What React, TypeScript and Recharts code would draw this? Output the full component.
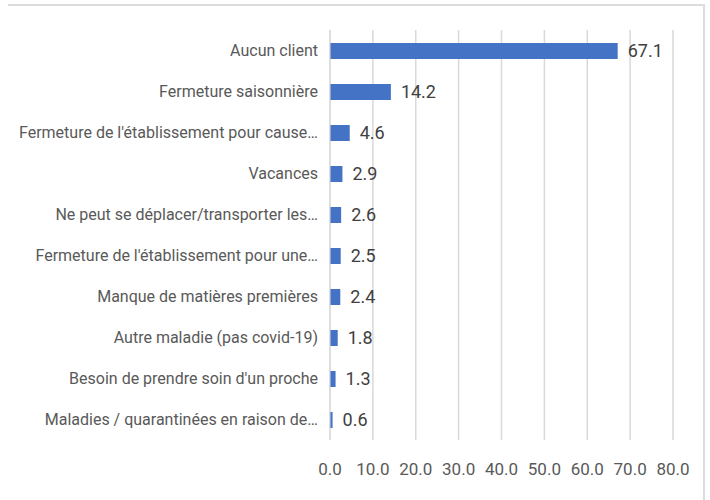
import React from 'react';
import { BarChart, Bar, XAxis, YAxis, CartesianGrid, LabelList } from 'recharts';

const categories = [
  'Aucun client',
  'Fermeture saisonnière',
  "Fermeture de l'établissement pour cause…",
  'Vacances',
  'Ne peut se déplacer/transporter les…',
  "Fermeture de l'établissement pour une…",
  'Manque de matières premières',
  'Autre maladie (pas covid-19)',
  "Besoin de prendre soin d'un proche",
  'Maladies / quarantinées en raison de…',
];

const values = [67.1, 14.2, 4.6, 2.9, 2.6, 2.5, 2.4, 1.8, 1.3, 0.6];

const xTicks = [0, 10, 20, 30, 40, 50, 60, 70, 80];

const data = categories.map((name, i) => ({ name, value: values[i] }));

const FONT = 'Roboto, sans-serif';
const TEXT = '#595959';

const App: React.FC = () => {
  return (
    <div style={{ position: 'absolute', left: 0, top: 0, width: 710, height: 500, background: '#fff' }}>
      {/* chart frame (top + right edges visible) */}
      <div
        style={{
          position: 'absolute',
          left: 8,
          top: 4,
          width: 695,
          height: 500,
          borderTop: '2px solid #dcdcdc',
          borderRight: '2px solid #dcdcdc',
        }}
      />
      <BarChart
        width={710}
        height={500}
        data={data}
        layout="vertical"
        margin={{ top: 30, right: 37, left: 0, bottom: 0 }}
        style={{ position: 'absolute', left: 0, top: 0 }}
      >
        <CartesianGrid horizontal={false} stroke="#d9d9d9" strokeWidth={1.5} />
        <XAxis
          type="number"
          domain={[0, 80]}
          ticks={xTicks}
          tickFormatter={(v: number) => v.toFixed(1)}
          axisLine={false}
          tickLine={false}
          height={60}
          tickMargin={17}
          interval={0}
          tick={{ fill: TEXT, fontSize: 17, fontFamily: FONT }}
        />
        <YAxis
          type="category"
          dataKey="name"
          width={330}
          axisLine={{ stroke: '#d9d9d9' }}
          tickLine={false}
          tickMargin={6}
          interval={0}
          tick={{ fill: TEXT, fontSize: 16, fontFamily: FONT }}
        />
        <Bar dataKey="value" fill="#4472C4" barSize={16} isAnimationActive={false}>
          <LabelList
            dataKey="value"
            position="right"
            offset={10}
            formatter={(v: number) => v.toFixed(1)}
            style={{ fill: '#404040', fontSize: 18, fontFamily: FONT }}
          />
        </Bar>
      </BarChart>
    </div>
  );
};

export default App;
